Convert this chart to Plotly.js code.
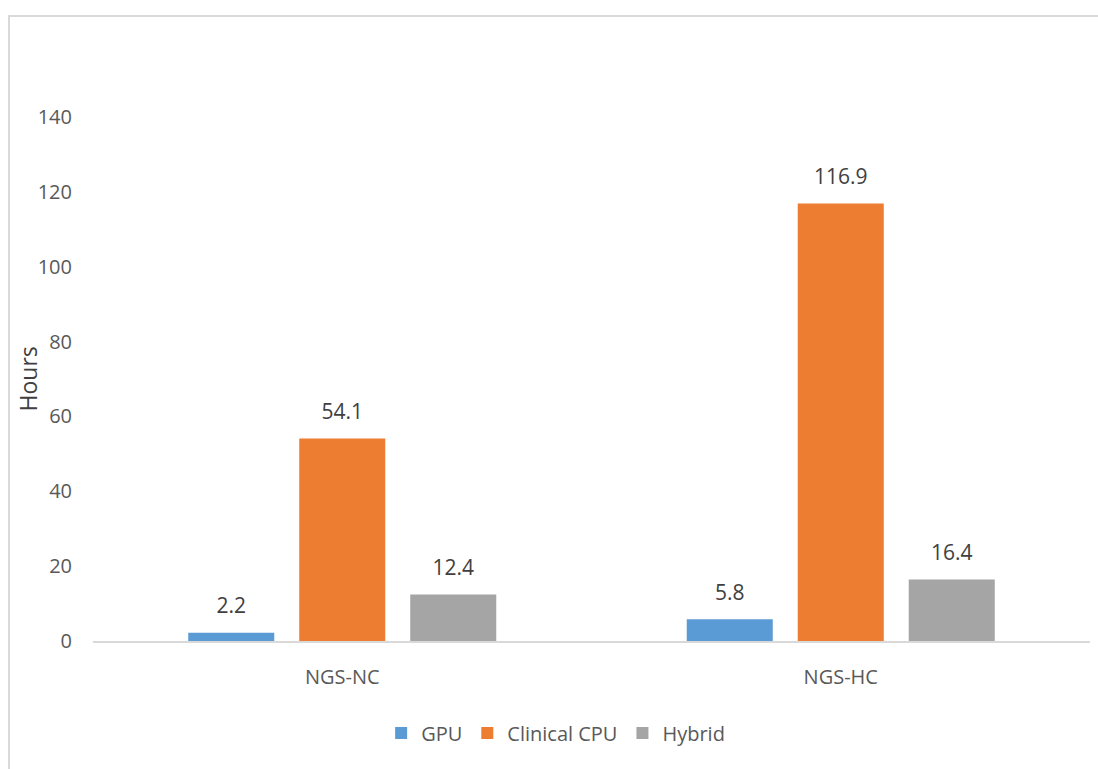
<!DOCTYPE html>
<html>
<head>
<meta charset="utf-8">
<script src="https://cdn.plot.ly/plotly-3.0.1.min.js"></script>
<style>
  html, body { margin: 0; padding: 0; background: #ffffff; }
  #wrap { position: relative; width: 1098px; height: 769px; overflow: hidden; }
  #chart { position: absolute; left: 0; top: 0; width: 1098px; height: 769px; }
  #frame { position: absolute; left: 8px; top: 15px; width: 1200px; height: 900px;
           border-top: 2px solid #d9d9d9; border-left: 2px solid #d9d9d9; pointer-events: none; }
</style>
</head>
<body>
<div id="wrap">
  <div id="chart"></div>
  <div id="frame"></div>
</div>
<script>
const categories = ["NGS-NC", "NGS-HC"];
const seriesNames = ["GPU", "Clinical CPU", "Hybrid"];
const gpuHours = [2.2, 5.8];
const clinicalCpuHours = [54.1, 116.9];
const hybridHours = [12.4, 16.4];
const yTicks = [0, 20, 40, 60, 80, 100, 120, 140];
const colors = ["#5b9bd5", "#ed7d31", "#a5a5a5"];

const FONT = "Open Sans, Noto Sans, sans-serif";
const BARGAP = 0.332;
const series = [gpuHours, clinicalCpuHours, hybridHours];

const data = [];
series.forEach((values, i) => {
  data.push({
    type: "bar",
    name: seriesNames[i],
    x: categories,
    y: values,
    marker: { color: colors[i] },
    hoverinfo: "x+y+name"
  });
});
// value labels, grouped the same way as the bars
series.forEach((values, i) => {
  data.push({
    type: "scatter",
    mode: "markers+text",
    x: categories,
    y: values,
    text: values.map(v => v.toFixed(1)),
    textposition: "top center",
    textfont: { family: FONT, size: 21, color: "#404040" },
    marker: { size: 21, opacity: 0, color: colors[i] },
    showlegend: false,
    hoverinfo: "skip",
    cliponaxis: false
  });
});

const layout = {
  width: 1098,
  height: 769,
  margin: { l: 93, r: 8, t: 117, b: 128, pad: 0 },
  paper_bgcolor: "#ffffff",
  plot_bgcolor: "#ffffff",
  barmode: "group",
  bargap: BARGAP,
  bargroupgap: 0.225,
  scattermode: "group",
  scattergap: BARGAP,
  font: { family: FONT, color: "#595959" },
  showlegend: true,
  legend: {
    orientation: "h",
    x: 0.289, xanchor: "left",
    y: -0.1756, yanchor: "middle",
    font: { family: FONT, size: 20, color: "#595959" },
    traceorder: "normal"
  },
  xaxis: {
    type: "category",
    showline: true,
    linecolor: "#d9d9d9",
    linewidth: 2,
    showgrid: false,
    zeroline: false,
    ticks: "",
    ticklabelstandoff: 17,
    tickfont: { family: FONT, size: 20, color: "#595959" }
  },
  yaxis: {
    range: [0, 140],
    tickvals: yTicks,
    ticktext: yTicks.map(String),
    showline: false,
    showgrid: false,
    zeroline: false,
    ticks: "",
    ticklabelstandoff: 20,
    tickfont: { family: FONT, size: 20, color: "#595959" }
  },
  annotations: [{
    text: "Hours",
    xref: "paper", yref: "paper",
    x: -0.0647, y: 0.5,
    xanchor: "center", yanchor: "middle",
    textangle: -90,
    showarrow: false,
    font: { family: FONT, size: 23, color: "#404040" }
  }]
};

Plotly.newPlot("chart", data, layout, { displayModeBar: false, staticPlot: true });
</script>
</body>
</html>
